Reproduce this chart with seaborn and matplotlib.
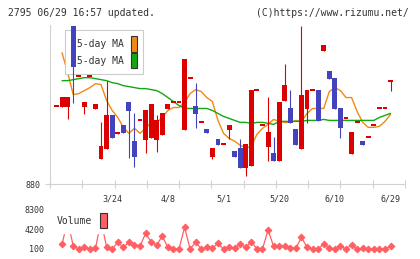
import numpy as np
import seaborn as sns
import matplotlib
matplotlib.use('Agg')
import matplotlib.pyplot as plt
from matplotlib.patches import Patch

# daily candles (61 trading days)
opens = [958, 957, 957, 1039, 989, 957, 989, 955, 905, 915, 949, 930, 939, 963, 923, 944,
         924, 926, 924, 929, 955, 963, 963, 934, 987, 958, 942, 935, 907, 925, 920, 934,
         913, 916, 896, 898, 975, 939, 917, 911, 903, 964, 956, 935, 915, 955, 975, 975,
         1014, 994, 987, 956, 946, 910, 942, 923, 927, 939, 956, 956, 984]
closes = [958, 968, 968, 998, 989, 963, 989, 961, 918, 949, 926, 932, 931, 953, 907, 944,
          954, 961, 944, 951, 961, 963, 963, 1006, 987, 950, 942, 931, 916, 919, 920, 939,
          907, 896, 920, 975, 975, 939, 932, 903, 963, 980, 941, 919, 970, 975, 975, 943,
          1020, 986, 955, 936, 946, 932, 942, 919, 927, 939, 956, 956, 984]
highs = [958, 968, 968, 1039, 989, 963, 989, 961, 942, 984, 949, 932, 939, 963, 951, 944,
         954, 961, 949, 951, 961, 963, 963, 1006, 987, 982, 942, 935, 916, 925, 920, 939,
         913, 925, 920, 975, 975, 939, 968, 927, 963, 1001, 975, 935, 1039, 975, 975, 975,
         1020, 994, 987, 956, 946, 932, 942, 923, 927, 939, 956, 956, 984]
lows = [958, 957, 945, 962, 989, 950, 989, 955, 905, 915, 926, 930, 931, 906, 897, 944,
        911, 926, 912, 929, 955, 963, 963, 934, 987, 936, 942, 931, 905, 919, 920, 925,
        907, 896, 888, 898, 975, 939, 903, 903, 903, 964, 941, 919, 915, 941, 975, 943,
        1014, 986, 955, 926, 946, 910, 942, 919, 927, 939, 956, 956, 974]

ma5 = [np.nan, 1012, 992, 970, 971, 974, 977, 981, 980, 964, 954, 947, 937, 931, 936, 931,
       936, 942, 942, 947, 954, 957, 957, 962, 971, 975, 973, 967, 963, 944, 931, 926,
       923, 919, 916, 918, 930, 936, 940, 945, 943, 942, 942, 944, 943, 951, 956, 956,
       956, 973, 977, 974, 967, 967, 953, 942, 937, 937, 938, 943, 950]
ma25 = [np.nan, 984, 984, 985, 986, 987, 987, 986, 985, 984, 982, 981, 979, 978, 977, 976,
        976, 975, 974, 971, 967, 963, 959, 956, 956, 956, 956, 956, 954, 951, 948, 946,
        944, 942, 942, 941, 942, 942, 941, 940, 943, 943, 943, 943, 943, 944, 944, 944,
        945, 944, 944, 944, 944, 944, 944, 944, 944, 944, 947, 949, 951]

volume = [np.nan, 1130, 6000, 720, 100, 510, 100, 245, 6000, 450, 100, 1480, 450, 1480, 930,
          650, 3340, 1545, 930, 2780, 450, 100, 100, 4580, 100, 1480, 100, 450, 245, 1270,
          100, 450, 245, 1130, 450, 1610, 100, 100, 4020, 650, 650, 650, 245, 245, 2520, 450,
          100, 100, 1130, 245, 100, 650, 100, 930, 100, 245, 100, 100, 100, 100, 650]

date_pos = [10, 20, 30, 40, 50, 60]
date_labels = ['3/24', '4/8', '5/1', '5/20', '6/10', '6/29']
vol_ticks = [100, 4200, 8300]

RED, BLUE = '#dd0000', '#4343bd'
ORANGE, GREEN, VOLC = '#f08a12', '#12a812', '#ff5f63'
GRID, TXT = '#d2d2d2', '#333333'

sns.set_style('white')
plt.rcParams['font.family'] = ['DejaVu Sans Mono']

days = np.arange(len(opens))
o, c = np.array(opens, float), np.array(closes, float)
cols = [RED if cc >= oo else BLUE for oo, cc in zip(o, c)]
bottoms = np.minimum(o, c)
heights = np.abs(c - o)
flat = heights < 2
bottoms[flat] = o[flat] - 1
heights[flat] = 2

fig = plt.figure(figsize=(4.2, 2.59), dpi=100)
W, H = 420, 259
ax = fig.add_axes([50 / W, 1 - 184 / H, 355 / W, 159 / H])
axv = fig.add_axes([50 / W, 1 - 252 / H, 355 / W, 47 / H])

xlim = (-1.17, 62.6)

# moving averages
sns.lineplot(x=days, y=ma5, ax=ax, color=ORANGE, lw=1, zorder=2)
sns.lineplot(x=days, y=ma25, ax=ax, color=GREEN, lw=1, zorder=2)

# candles
ax.vlines(days, lows, highs, colors=cols, lw=0.8, zorder=6)
ax.bar(days, heights, bottom=bottoms, width=0.88, color=cols, lw=0, zorder=6)

ax.set_xlim(xlim)
ax.set_ylim(880, 1040)
ax.set_xticks(np.linspace(xlim[0], xlim[1], 12))
ax.set_xticklabels([])
ax.set_xticks(date_pos, minor=True)
ax.set_xticklabels(date_labels, minor=True)
ax.set_yticks([880])
ax.tick_params(axis='x', which='major', direction='inout', length=6, width=0.8,
               color=GRID, bottom=True)
ax.tick_params(axis='x', which='minor', length=0, pad=7.5, labelsize=6, labelcolor=TXT)
ax.tick_params(axis='y', direction='inout', length=7, width=0.8, color=GRID,
               left=True, pad=3, labelsize=6, labelcolor=TXT)
for s in ['top', 'right']:
    ax.spines[s].set_visible(False)
for s in ['left', 'bottom']:
    ax.spines[s].set_color(GRID)
    ax.spines[s].set_linewidth(0.8)
ax.set_xlabel('')
ax.set_ylabel('')

handles = [Patch(facecolor=ORANGE, edgecolor=TXT, lw=0.8),
           Patch(facecolor=GREEN, edgecolor=TXT, lw=0.8)]
leg = ax.legend(handles, [' 5-day MA', '25-day MA'], loc='upper left',
                bbox_to_anchor=(0.042, 0.969), borderaxespad=0, markerfirst=False,
                fontsize=7, handlelength=0.62, handleheight=2.15, labelspacing=0.08,
                handletextpad=0.75, borderpad=0.6, fancybox=False, framealpha=1,
                edgecolor='#cccccc', labelcolor=TXT)
leg.get_frame().set_linewidth(0.8)
leg.set_zorder(4)

# volume panel
sns.lineplot(x=days, y=volume, ax=axv, color=VOLC, lw=0.9, marker='D', ms=3.4,
             mec=VOLC, mfc=VOLC, zorder=2)
axv.set_xlim(xlim)
axv.set_ylim(-520, 9186)
axv.set_xticks([])
axv.set_yticks(vol_ticks)
axv.set_yticklabels([str(v) for v in vol_ticks])
axv.tick_params(axis='y', length=0, pad=4, labelsize=6, labelcolor=TXT)
for s in axv.spines.values():
    s.set_visible(False)
axv.set_xlabel('')
axv.set_ylabel('')
vleg = axv.legend([Patch(facecolor=VOLC, edgecolor=TXT, lw=0.8)], ['Volume'],
                  loc='center left', bbox_to_anchor=(0.006, 0.66), borderaxespad=0,
                  markerfirst=False, fontsize=7, handlelength=0.7, handleheight=2.0,
                  handletextpad=0.8, borderpad=0.5, fancybox=False, framealpha=1,
                  edgecolor='white', labelcolor=TXT)
vleg.set_zorder(5)

fig.text(8 / W, 1 - 12.7 / H, '2795 06/29 16:57 updated.', fontsize=7.0, color=TXT,
         va='center', ha='left')
fig.text(409 / W, 1 - 12.7 / H, '(C)https://www.rizumu.net/', fontsize=7.0, color=TXT,
         va='center', ha='right')

fig.savefig('out.png', dpi=100)
